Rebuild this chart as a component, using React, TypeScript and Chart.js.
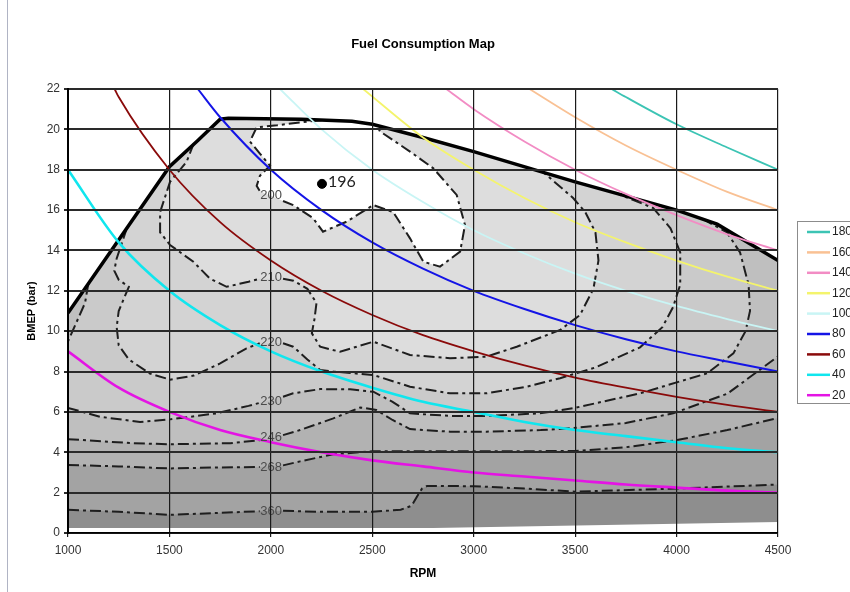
import React, { useEffect, useRef } from 'react';
import { Chart, registerables } from 'chart.js';

Chart.register(...registerables);

type P = [number, number] | null;

// ---- Power curves (kW): [RPM, BMEP bar]
const powerLabels = ['180', '160', '140', '120', '100', '80', '60', '40', '20'];
const powerColors = ['#3cc4b4', '#f9c194', '#f28cc4', '#f4f46c', '#c9f5f5', '#1414e6', '#8a0a0a', '#10e6ee', '#e414e4'];
const powerWidths = [1.8, 1.8, 1.8, 1.8, 1.8, 2, 1.8, 2.6, 2.6];

const p180: P[] = [[3680, 22], [3750, 21.6], [4000, 20.25], [4250, 19.1], [4500, 18]];
const p160: P[] = [[3275, 22], [3500, 20.6], [3750, 19.2], [4000, 18], [4250, 16.9], [4500, 16]];
const p140: P[] = [[2865, 22], [3000, 21], [3250, 19.4], [3500, 18], [3750, 16.8], [4000, 15.75], [4250, 14.8], [4500, 14]];
const p120: P[] = [[2455, 22], [2750, 19.6], [3000, 18], [3250, 16.6], [3500, 15.4], [3750, 14.4], [4000, 13.5], [4250, 12.7], [4500, 12]];
const p100: P[] = [[2045, 22], [2250, 20], [2500, 18], [2750, 16.4], [3000, 15], [3250, 13.85], [3500, 12.85], [3750, 12], [4000, 11.25], [4250, 10.6], [4500, 10]];
const p80: P[] = [[1640, 22], [1750, 20.6], [2000, 18], [2250, 16], [2500, 14.4], [2750, 13.1], [3000, 12], [3250, 11.1], [3500, 10.3], [3750, 9.6], [4000, 9], [4250, 8.5], [4500, 8]];
const p60: P[] = [[1230, 22], [1250, 21.6], [1500, 18], [1750, 15.4], [2000, 13.5], [2250, 12], [2500, 10.8], [2750, 9.8], [3000, 9], [3250, 8.3], [3500, 7.7], [3750, 7.2], [4000, 6.75], [4250, 6.35], [4500, 6]];
const p40: P[] = [[1000, 18], [1250, 14.4], [1500, 12], [1750, 10.3], [2000, 9], [2250, 8], [2500, 7.2], [2750, 6.5], [3000, 6], [3250, 5.5], [3500, 5.1], [3750, 4.8], [4000, 4.5], [4250, 4.2], [4500, 4]];
const p20: P[] = [[1000, 9], [1250, 7.2], [1500, 6], [1750, 5.1], [2000, 4.5], [2250, 4], [2500, 3.6], [2750, 3.3], [3000, 3], [3250, 2.8], [3500, 2.6], [3750, 2.4], [4000, 2.25], [4250, 2.1], [4500, 2]];
const powerSeries = [p180, p160, p140, p120, p100, p80, p60, p40, p20];

// ---- Full-load (WOT) line
const wot: [number, number][] = [[1000, 10.9], [1500, 18.15], [1640, 19.45], [1750, 20.5], [1790, 20.55], [2150, 20.5], [2400, 20.4], [2500, 20.25], [2750, 19.6], [3000, 18.9], [3500, 17.4], [4000, 16.0], [4200, 15.3], [4500, 13.5]];

// ---- Lower edge of the shaded map
const mapBottom: [number, number][] = [[1000, 0.25], [2800, 0.25], [4500, 0.55]];

// ---- BSFC contours (g/kWh); null = break in the line where the label sits
const c360: P[] = [[1000, 1.15], [1250, 1.05], [1500, 0.9], [1750, 1.0], [1945, 1.08], null, [2060, 1.1], [2250, 1.05], [2500, 1.05], [2640, 1.15], [2694, 1.35], [2720, 1.8], [2745, 2.2], [2770, 2.33], [3000, 2.32], [3250, 2.2], [3500, 2.05], [4000, 2.2], [4500, 2.4]];
const c268: P[] = [[1000, 3.37], [1250, 3.3], [1500, 3.2], [1750, 3.25], [1945, 3.27], null, [2060, 3.35], [2144, 3.55], [2308, 3.9], [2500, 4.05], [3000, 4.05], [3500, 4.06], [3750, 4.25], [4000, 4.6], [4250, 5.1], [4500, 5.7]];
const c246: P[] = [[1000, 4.65], [1320, 4.45], [1500, 4.4], [1800, 4.45], [1945, 4.6], null, [2060, 4.85], [2144, 5.1], [2308, 5.68], [2440, 6.22], [2520, 6.1], [2600, 5.6], [2686, 5.15], [2883, 5.02], [3064, 5.02], [3330, 5.1], [3490, 5.2], [3750, 5.45], [3983, 5.93], [4250, 6.9], [4500, 8.75]];
const c230a: P[] = [[1100, 12.35], [1084, 11.4], [1040, 10.4], [1018, 9.9], [1000, 9.5]];
const c230b: P[] = [[1000, 6.2], [1158, 5.76], [1355, 5.5], [1503, 5.63], [1733, 5.93], [1890, 6.3], [1945, 6.45], null, [2060, 6.75], [2110, 6.92], [2243, 7.13], [2391, 7.12], [2505, 7.0], [2600, 6.5], [2686, 5.93], [2883, 5.8], [3064, 5.8], [3326, 5.93], [3490, 6.18], [3820, 6.92], [4150, 7.91], [4280, 8.9], [4340, 10.0], [4362, 11.0], [4355, 12.3], [4313, 13.9], [4248, 14.9], [4140, 15.5]];
const c220: P[] = [[1290, 15.1], [1240, 13.6], [1228, 13.0], [1250, 12.55], [1300, 12.2], [1275, 11.6], [1250, 11.0], [1240, 10.2], [1250, 9.3], [1300, 8.6], [1404, 7.9], [1503, 7.6], [1620, 7.8], [1750, 8.4], [1880, 9.15], [1945, 9.4], null, [2060, 9.4], [2110, 9.23], [2180, 8.6], [2243, 8.08], [2308, 8.0], [2505, 7.83], [2686, 7.25], [2883, 6.92], [3064, 6.92], [3261, 7.25], [3426, 7.67], [3600, 8.2], [3820, 9.2], [3930, 10.2], [3983, 11.2], [4018, 12.3], [4018, 13.9], [3970, 15.1], [3885, 16.1], [3712, 16.8]];
const c210: P[] = [[1620, 19.3], [1585, 18.4], [1503, 17.4], [1454, 15.9], [1454, 14.9], [1503, 14.27], [1618, 13.44], [1700, 12.6], [1782, 12.2], [1890, 12.45], [1945, 12.6], null, [2060, 12.6], [2111, 12.5], [2180, 12.1], [2225, 11.4], [2215, 10.6], [2202, 9.9], [2243, 9.23], [2341, 8.98], [2505, 9.48], [2686, 8.82], [2883, 8.66], [3064, 8.74], [3212, 9.23], [3426, 10.06], [3524, 10.8], [3590, 12.1], [3615, 13.5], [3600, 14.9], [3550, 15.9], [3490, 16.6], [3340, 17.9]];
const c200: P[] = [[2250, 20.45], [2150, 20.35], [2030, 20.2], [1930, 20.1], [1897, 19.4], [1946, 18.8], [1996, 18.2], [1946, 17.7], [1930, 17.2], [1945, 16.95], null, [2060, 16.45], [2110, 16.25], [2208, 15.6], [2257, 14.93], [2374, 15.43], [2505, 16.25], [2603, 15.9], [2686, 14.6], [2752, 13.44], [2834, 13.2], [2933, 13.94], [2957, 15.26], [2916, 16.75], [2801, 18.07], [2686, 18.9], [2538, 19.9], [2522, 20.2]];
const contourLines = [c360, c268, c246, c230a, c230b, c220, c210, c200];

// ---- Contour labels
const contourLabels = ['200', '210', '220', '230', '246', '268', '360'];
const contourLabelRpm = [2001, 2001, 2001, 2001, 2001, 2001, 2001];
const contourLabelBmep = [16.75, 12.64, 9.44, 6.54, 4.73, 3.27, 1.09];

// ---- Best point
const bestRpm = 2252;
const bestBmep = 17.3;
const bestLabel = '196';

// ---- Shading of the zones, darkest (outermost) to lightest (innermost)
const zoneColors = ['#8e8e8e', '#a3a3a3', '#b2b2b2', '#bfbfbf', '#cacaca', '#d3d3d3', '#dddddd', '#ffffff'];

const FONT = '"Liberation Sans", Arial, sans-serif';

const xy = (a: P[]) => a.map((p, i) => (p ? { x: p[0], y: p[1] } : { x: (a[i - 1] as [number, number])[0], y: null }));
const solid = (a: P[]) => a.filter(Boolean) as [number, number][];
const wotRev = [...wot].reverse();
const wotBetween = (x1: number, x2: number) => wot.filter((p) => p[0] > x1 && p[0] < x2).reverse();

const zonePolygons: [number, number][][] = [
  [...mapBottom, ...wotRev],
  [...solid(c360), ...wotRev],
  [...solid(c268), ...wotRev],
  [...solid(c246), ...wotRev],
  [...solid(c230a), ...solid(c230b), ...wotBetween(1100, 4140)],
  [...solid(c220), ...wotBetween(1290, 3712)],
  [...solid(c210), ...wotBetween(1620, 3340)],
  [...solid(c200), ...wotBetween(2250, 2522)],
];

const labelPlugin = {
  id: 'contourLabels',
  afterDatasetsDraw(chart: any) {
    const { ctx, scales } = chart;
    const xs = scales.x;
    const ys = scales.y;
    ctx.save();
    ctx.font = `13px ${FONT}`;
    ctx.fillStyle = '#4a4a4a';
    ctx.textAlign = 'center';
    ctx.textBaseline = 'middle';
    contourLabels.forEach((t, i) => {
      ctx.fillText(t, xs.getPixelForValue(contourLabelRpm[i]), ys.getPixelForValue(contourLabelBmep[i]));
    });
    ctx.font = '16px Lato, "DejaVu Sans", sans-serif';
    ctx.fillStyle = '#222';
    ctx.textAlign = 'left';
    ctx.fillText(bestLabel, xs.getPixelForValue(bestRpm) + 6, ys.getPixelForValue(bestBmep) - 2);
    ctx.restore();
  },
};

const legendPlugin = {
  id: 'sideLegend',
  afterDraw(chart: any) {
    const { ctx } = chart;
    ctx.save();
    ctx.strokeStyle = '#8c8c8c';
    ctx.lineWidth = 1;
    ctx.strokeRect(797.5, 221.5, 80, 182);
    ctx.font = `12px ${FONT}`;
    ctx.textBaseline = 'middle';
    ctx.textAlign = 'left';
    powerLabels.forEach((lab, i) => {
      const y = 232 + i * 20.4;
      ctx.strokeStyle = powerColors[i];
      ctx.lineWidth = 2.5;
      ctx.beginPath();
      ctx.moveTo(807, y);
      ctx.lineTo(830, y);
      ctx.stroke();
      ctx.fillStyle = '#222';
      ctx.fillText(lab, 832, y);
    });
    ctx.restore();
  },
};

export default function App() {
  const ref = useRef<HTMLCanvasElement>(null);

  useEffect(() => {
    if (!ref.current) return;
    const datasets: any[] = [];

    zonePolygons.forEach((poly, i) => {
      datasets.push({
        label: 'zone' + i,
        data: poly.map((p) => ({ x: p[0], y: p[1] })),
        backgroundColor: zoneColors[i],
        borderColor: 'rgba(0,0,0,0)',
        borderWidth: 0,
        pointRadius: 0,
        tension: 0,
        fill: 'shape',
        order: 100 - i,
      });
    });

    contourLines.forEach((c, i) => {
      datasets.push({
        label: 'contour' + i,
        data: xy(c),
        borderColor: '#1e1e1e',
        borderWidth: 2,
        borderDash: [11, 4, 3, 4],
        pointRadius: 0,
        tension: 0,
        fill: false,
        spanGaps: false,
        order: 50,
      });
    });

    datasets.push({
      label: 'WOT',
      data: xy(wot),
      borderColor: '#000',
      borderWidth: 3.5,
      pointRadius: 0,
      tension: 0,
      fill: false,
      order: 40,
    });

    powerSeries.forEach((s, i) => {
      datasets.push({
        label: powerLabels[i],
        data: xy(s),
        borderColor: powerColors[i],
        borderWidth: powerWidths[i],
        pointRadius: 0,
        cubicInterpolationMode: 'monotone',
        fill: false,
        order: 30,
      });
    });

    datasets.push({
      label: 'best',
      data: [{ x: bestRpm, y: bestBmep }],
      showLine: false,
      pointRadius: 4.5,
      pointBackgroundColor: '#000',
      pointBorderColor: '#000',
      order: 10,
    });

    const tickFont = { family: FONT, size: 12 };
    const chart = new Chart(ref.current, {
      type: 'line',
      data: { datasets },
      plugins: [labelPlugin, legendPlugin],
      options: {
        responsive: false,
        animation: false,
        events: [],
        layout: { padding: { left: 0, right: 72, top: 0, bottom: 0 } },
        plugins: {
          legend: { display: false },
          tooltip: { enabled: false },
          title: {
            display: true,
            fullSize: false,
            text: 'Fuel Consumption Map',
            color: '#000',
            font: { family: FONT, size: 13, weight: 'bold' },
            padding: { top: 37, bottom: 36.4 },
          },
        },
        scales: {
          x: {
            type: 'linear',
            min: 1000,
            max: 4500,
            afterFit: (s: any) => {
              s.height = 59;
            },
            ticks: {
              stepSize: 500,
              autoSkip: false,
              maxRotation: 0,
              padding: 6,
              color: '#333',
              font: tickFont,
              callback: (v: any) => String(v),
            },
            grid: { color: '#1a1a1a', lineWidth: 1.2, tickLength: 4, z: 1 },
            border: { color: '#000', width: 1.5, z: 2 },
            title: {
              display: true,
              text: 'RPM',
              color: '#000',
              font: { family: FONT, size: 12, weight: 'bold' },
              padding: { top: 0, bottom: 11 },
            },
          },
          y: {
            type: 'linear',
            min: 0,
            max: 22,
            afterFit: (s: any) => {
              s.width = 68;
            },
            ticks: { stepSize: 2, padding: 4, color: '#333', font: tickFont },
            grid: { color: '#2a2a2a', lineWidth: 2, tickLength: 4, z: 1 },
            border: { color: '#000', width: 2, z: 2 },
            title: {
              display: true,
              text: 'BMEP (bar)',
              color: '#000',
              font: { family: FONT, size: 11, weight: 'bold' },
              padding: { top: 25, bottom: 0 },
            },
          },
        },
      } as any,
    });
    return () => chart.destroy();
  }, []);

  return (
    <div style={{ position: 'absolute', left: 0, top: 0, width: 850, height: 592, background: '#fff', overflow: 'hidden' }}>
      <div style={{ position: 'absolute', left: 7, top: 0, width: 1, height: 592, background: '#b0b4c4' }} />
      <canvas ref={ref} width={850} height={592} style={{ position: 'absolute', left: 0, top: 0, display: 'block' }} />
    </div>
  );
}
